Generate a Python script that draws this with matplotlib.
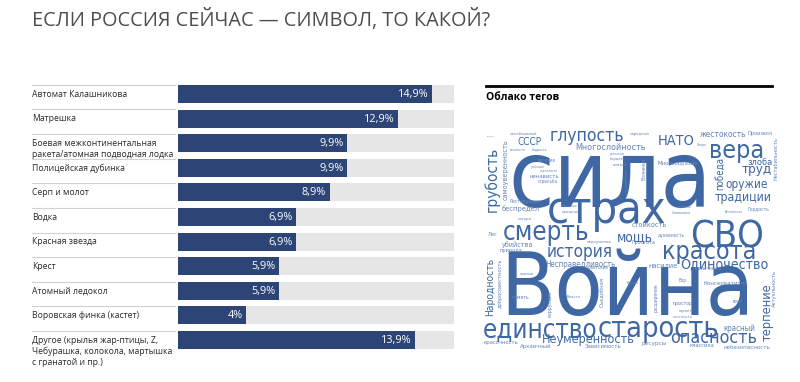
import matplotlib
matplotlib.use('Agg')
import matplotlib.pyplot as plt
from matplotlib import font_manager as fm
import numpy as np

plt.rcParams['font.family'] = ['Open Sans', 'DejaVu Sans']

# ---- bar chart data
categories = ['Автомат Калашникова', 'Матрешка',
              'Боевая межконтинентальная\nракета/атомная подводная лодка',
              'Полицейская дубинка', 'Серп и молот', 'Водка', 'Красная звезда',
              'Крест', 'Атомный ледокол', 'Воровская финка (кастет)',
              'Другое (крылья жар-птицы, Z,\nЧебурашка, колокола, мартышка\nс гранатой и пр.)']
shares = [14.9, 12.9, 9.9, 9.9, 8.9, 6.9, 6.9, 5.9, 5.9, 4.0, 13.9]
value_labels = ['14,9%', '12,9%', '9,9%', '9,9%', '8,9%', '6,9%', '6,9%',
                '5,9%', '5,9%', '4%', '13,9%']
scale_max = 16.2

# ---- tag cloud words
tag_words = ['сила', 'Война', 'страх', 'СВО', 'смерть', 'история', 'мощь',
             'красота', 'Одиночество', 'единство', 'старость', 'Неумеренность',
             'опасность', 'вера', 'НАТО', 'глупость', 'СССР', 'Многослойность',
             'труд', 'оружие', 'традиции', 'злоба', 'ненависть', 'беспредел',
             'Реставрация', 'убийства', 'Несправедливость', 'насилие', 'красный',
             'жестокость', 'Многообразие', 'Зависимость', 'Архаичный',
             'красочность', 'ресурсы', 'классика', 'небезопасность',
             'Консерватизм', 'потери', 'природа', 'стойкость', 'духовность',
             'Простота', 'советский', 'недоумение', 'стрельба', 'Произвол',
             'народный', 'Лес', 'призыв', 'память', 'Власть', 'простор',
             'гарант', 'честность', 'необычность', 'Вор', 'воля', 'Прошлое',
             'праздник', 'самоуверенность', 'грубость', 'Народность',
             'терпение', 'победа', 'расширение', 'коррупция',
             'добросовестность', 'Съедобная', 'Волнение', 'Актуальность',
             'Нестабильность', 'Скрепы', 'непобедимый', 'Гордость',
             'Абсолютная', 'Символика', 'церковь', 'Время', 'величие',
             'унылый', 'надежность', 'распятый', 'бордово', 'символ',
             'устойчивость', 'вечность', 'бодрость', 'Зверь']

# placement of each word: left x, baseline y, length (pixels), rotation
tag_layout = [(508, 207, 204, 0), (500, 315, 255, 0), (547, 223, 120, 0),
              (690, 247, 74, 0), (503, 240, 87, 0), (547, 257, 66, 0),
              (617, 241, 36, 0), (662, 259, 95, 0), (680, 268, 88, 0),
              (483, 337, 115, 0), (598, 337, 122, 0), (542, 343, 93, 0),
              (670, 343, 87, 0), (709, 158, 55, 0), (658, 145, 37, 0),
              (550, 141, 75, 0), (518, 145, 24, 0), (575, 150, 70, 0),
              (742, 173, 30, 0), (725, 188, 42, 0), (715, 201, 57, 0),
              (747, 165, 25, 0), (530, 178, 30, 0), (502, 211, 38, 0),
              (510, 203, 32, 0), (502, 247, 31, 0), (545, 267, 70, 0),
              (648, 268, 29, 0), (723, 331, 32, 0), (700, 137, 47, 0),
              (657, 165, 41, 0), (585, 348, 37, 0), (520, 348, 32, 0),
              (483, 344, 35, 0), (642, 345, 25, 0), (690, 347, 25, 0),
              (723, 349, 47, 0), (703, 285, 42, 0), (518, 220, 14, 0),
              (500, 252, 23, 0), (632, 227, 35, 0), (658, 237, 27, 0),
              (632, 244, 24, 0), (587, 269, 22, 0), (587, 243, 25, 0),
              (538, 183, 20, 0), (747, 135, 25, 0), (630, 135, 20, 0),
              (488, 236, 10, 0), (520, 275, 14, 0), (512, 299, 18, 0),
              (567, 298, 14, 0), (673, 305, 20, 0), (679, 312, 13, 0),
              (673, 318, 20, 0), (693, 270, 30, 0), (679, 282, 8, 0),
              (733, 303, 10, 0), (562, 207, 16, 0), (562, 213, 18, 0),
              (508, 200, 60, 90), (497, 212, 65, 90), (493, 316, 58, 90),
              (771, 341, 58, 90), (723, 190, 33, 90), (658, 312, 29, 90),
              (552, 317, 27, 90), (502, 308, 50, 90), (603, 307, 30, 90),
              (645, 180, 23, 90), (776, 307, 37, 90), (778, 180, 43, 90),
              (487, 137, 8, 0), (510, 135, 27, 0), (748, 211, 22, 0),
              (725, 213, 18, 0), (672, 214, 20, 0), (677, 208, 15, 0),
              (627, 284, 12, 0), (538, 162, 18, 0), (531, 168, 14, 0),
              (540, 172, 18, 0), (610, 155, 15, 0), (610, 160, 15, 0),
              (613, 166, 14, 0), (628, 195, 26, 90), (510, 151, 16, 0),
              (532, 151, 16, 0), (697, 146, 10, 0)]


def pick_narrow_font():
    for fam, st in [('Liberation Sans Narrow', 'normal'),
                    ('DejaVu Sans', 'condensed'),
                    ('Roboto Condensed', 'normal'),
                    ('Open Sans', 'condensed')]:
        try:
            path = fm.findfont(fm.FontProperties(family=fam, stretch=st),
                               fallback_to_default=False)
        except ValueError:
            continue
        if 'Narrow' in path or 'Condensed' in path:
            return fam, st
    return 'Open Sans', 'normal'


cloud_family, cloud_stretch = pick_narrow_font()

W, H = 800, 382
fig = plt.figure(figsize=(W / 100, H / 100), dpi=100)
fig.patch.set_facecolor('white')

bar_col = '#2c4476'
track_col = '#e6e6e6'
cloud_col = '#3e67a4'

# ---- bar axes: labels start at x=32 px, bars start at x=178 px
px_per_unit = 17.04
x_left = -(178 - 32) / px_per_unit
ax = fig.add_axes([32 / W, (H - 372) / H, (454 - 32) / W, 292 / H])
ax.set_xlim(x_left, scale_max)
ax.set_ylim(11.30, -0.569)
ax.axis('off')

y = np.arange(len(categories))
ax.barh(y, [scale_max] * len(y), height=0.73, color=track_col)
ax.barh(y, shares, height=0.73, color=bar_col)

for i, (lab, val, txt) in enumerate(zip(categories, shares, value_labels)):
    ax.plot([x_left, -0.2], [i - 0.37, i - 0.37], color='#d2d2d2', lw=0.8)
    ax.text(x_left, i - 0.17, lab, ha='left', va='top', fontsize=6.2,
            color='#2a2a2a', linespacing=1.3)
    ax.text(val - 0.2, i + 0.02, txt, ha='right', va='center', fontsize=7.8,
            color='white')

# ---- title and right panel heading
fig.text(32 / W, 1 - 20 / H, 'ЕСЛИ РОССИЯ СЕЙЧАС — СИМВОЛ, ТО КАКОЙ?',
         ha='left', va='center', fontsize=14.3, color='#4d4d4d')

ov = fig.add_axes([0, 0, 1, 1])
ov.set_xlim(0, W)
ov.set_ylim(H, 0)
ov.axis('off')
ov.patch.set_alpha(0)
ov.plot([486, 772], [86, 86], color='black', lw=2)
ov.text(486, 97, 'Облако тегов', ha='left', va='center', fontsize=7.5,
        fontweight='bold', color='black')

# ---- tag cloud: each word scaled to the length it takes in the cloud
renderer = fig.canvas.get_renderer()
for word, (tx, ty, length, rot) in zip(tag_words, tag_layout):
    t = ov.text(tx, ty, word, ha='left', va='baseline', fontsize=10,
                family=[cloud_family, 'DejaVu Sans'], stretch=cloud_stretch,
                rotation_mode='anchor')
    w = t.get_window_extent(renderer).width
    size = 10 * length / w
    t.set_fontsize(size)
    t.set_rotation(rot)
    t.set_color(cloud_col if size >= 6.5 else '#6384b8')

fig.savefig('out.png', dpi=100)
